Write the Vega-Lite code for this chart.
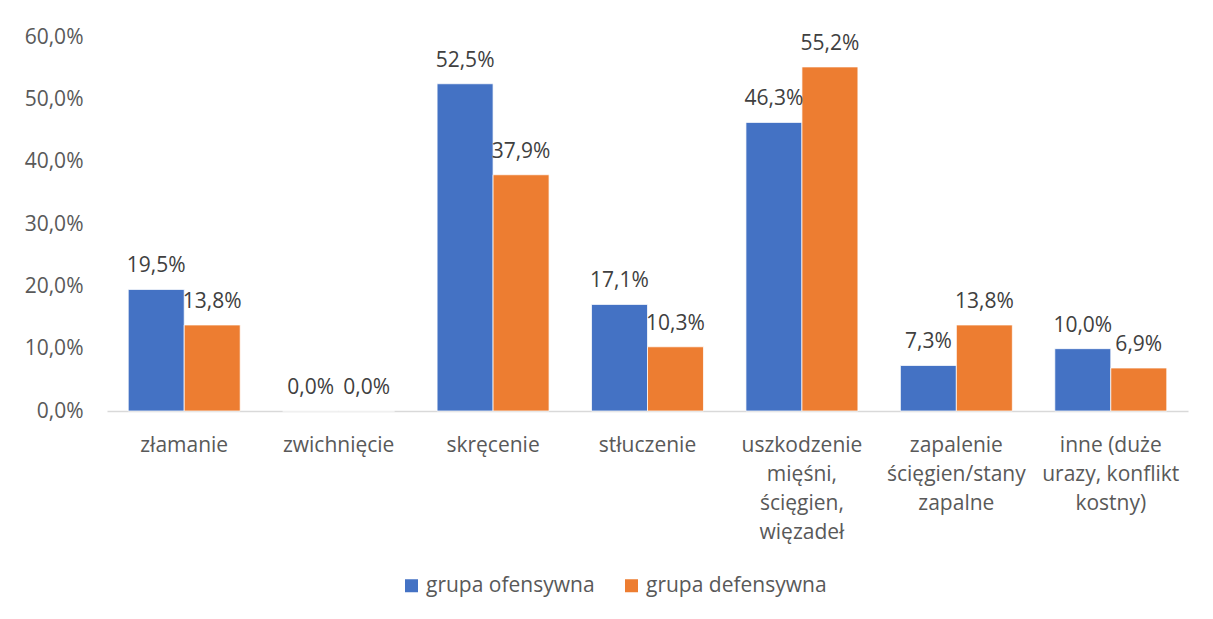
{
  "$schema": "https://vega.github.io/schema/vega-lite/v6.json",
  "width": 1081,
  "height": 374,
  "padding": {"left": 107, "top": 37, "right": 25, "bottom": 208},
  "autosize": {"type": "none"},
  "background": "white",
  "data": {
    "values": [
      {"rodzaj": "złamanie", "grupa": "grupa ofensywna", "udzial": 0.195},
      {"rodzaj": "złamanie", "grupa": "grupa defensywna", "udzial": 0.138},
      {"rodzaj": "zwichnięcie", "grupa": "grupa ofensywna", "udzial": 0.0},
      {"rodzaj": "zwichnięcie", "grupa": "grupa defensywna", "udzial": 0.0},
      {"rodzaj": "skręcenie", "grupa": "grupa ofensywna", "udzial": 0.525},
      {"rodzaj": "skręcenie", "grupa": "grupa defensywna", "udzial": 0.379},
      {"rodzaj": "stłuczenie", "grupa": "grupa ofensywna", "udzial": 0.171},
      {"rodzaj": "stłuczenie", "grupa": "grupa defensywna", "udzial": 0.103},
      {"rodzaj": "uszkodzenie mięśni, ścięgien, więzadeł", "grupa": "grupa ofensywna", "udzial": 0.463},
      {"rodzaj": "uszkodzenie mięśni, ścięgien, więzadeł", "grupa": "grupa defensywna", "udzial": 0.552},
      {"rodzaj": "zapalenie ścięgien/stany zapalne", "grupa": "grupa ofensywna", "udzial": 0.073},
      {"rodzaj": "zapalenie ścięgien/stany zapalne", "grupa": "grupa defensywna", "udzial": 0.138},
      {"rodzaj": "inne (duże urazy, konflikt kostny)", "grupa": "grupa ofensywna", "udzial": 0.1},
      {"rodzaj": "inne (duże urazy, konflikt kostny)", "grupa": "grupa defensywna", "udzial": 0.069}
    ]
  },
  "encoding": {
    "x": {
      "field": "rodzaj",
      "type": "nominal",
      "sort": null,
      "title": null,
      "scale": {"paddingInner": 0.275, "paddingOuter": 0.1375},
      "axis": {
        "labelAngle": 0,
        "ticks": false,
        "domainColor": "#d9d9d9",
        "domainWidth": 1.5,
        "labelPadding": 23,
        "labelFontSize": 21,
        "labelColor": "#595959",
        "labelLineHeight": 29,
        "labelBaseline": "top",
        "labelLimit": 200,
        "labelExpr": "{'uszkodzenie mięśni, ścięgien, więzadeł': ['uszkodzenie', 'mięśni,', 'ścięgien,', 'więzadeł'], 'zapalenie ścięgien/stany zapalne': ['zapalenie', 'ścięgien/stany', 'zapalne'], 'inne (duże urazy, konflikt kostny)': ['inne (duże', 'urazy, konflikt', 'kostny)']}[datum.value] || datum.value"
      }
    },
    "xOffset": {"field": "grupa", "type": "nominal", "sort": ["grupa ofensywna", "grupa defensywna"]},
    "y": {
      "field": "udzial",
      "type": "quantitative",
      "title": null,
      "scale": {"domain": [0, 0.6], "nice": false},
      "axis": {
        "format": ".1%",
        "values": [0, 0.1, 0.2, 0.3, 0.4, 0.5, 0.6],
        "grid": false,
        "domain": false,
        "ticks": false,
        "labelPadding": 24,
        "labelFontSize": 21,
        "labelColor": "#595959"
      }
    }
  },
  "layer": [
    {
      "mark": {"type": "bar", "stroke": "white", "strokeWidth": 0.75},
      "encoding": {
        "color": {
          "field": "grupa",
          "type": "nominal",
          "sort": ["grupa ofensywna", "grupa defensywna"],
          "scale": {"domain": ["grupa ofensywna", "grupa defensywna"], "range": ["#4472C4", "#ED7D31"]},
          "legend": {
            "title": null,
            "orient": "none",
            "direction": "horizontal",
            "legendX": 294,
            "legendY": 538,
            "padding": 0,
            "symbolType": "square",
            "symbolSize": 169,
            "symbolStrokeWidth": 0,
            "symbolOpacity": 1,
            "labelFontSize": 21,
            "labelColor": "#595959",
            "labelOffset": 4,
            "columnPadding": 26,
            "labelLimit": 300
          }
        }
      }
    },
    {
      "mark": {"type": "text", "baseline": "alphabetic", "dy": -17, "fontSize": 21, "color": "#404040"},
      "encoding": {
        "text": {"field": "udzial", "type": "quantitative", "format": ".1%"}
      }
    }
  ],
  "config": {
    "font": "Open Sans",
    "view": {"stroke": null},
    "locale": {
      "number": {"decimal": ",", "thousands": " ", "grouping": [3], "currency": ["", " zł"], "percent": "%"}
    }
  }
}
